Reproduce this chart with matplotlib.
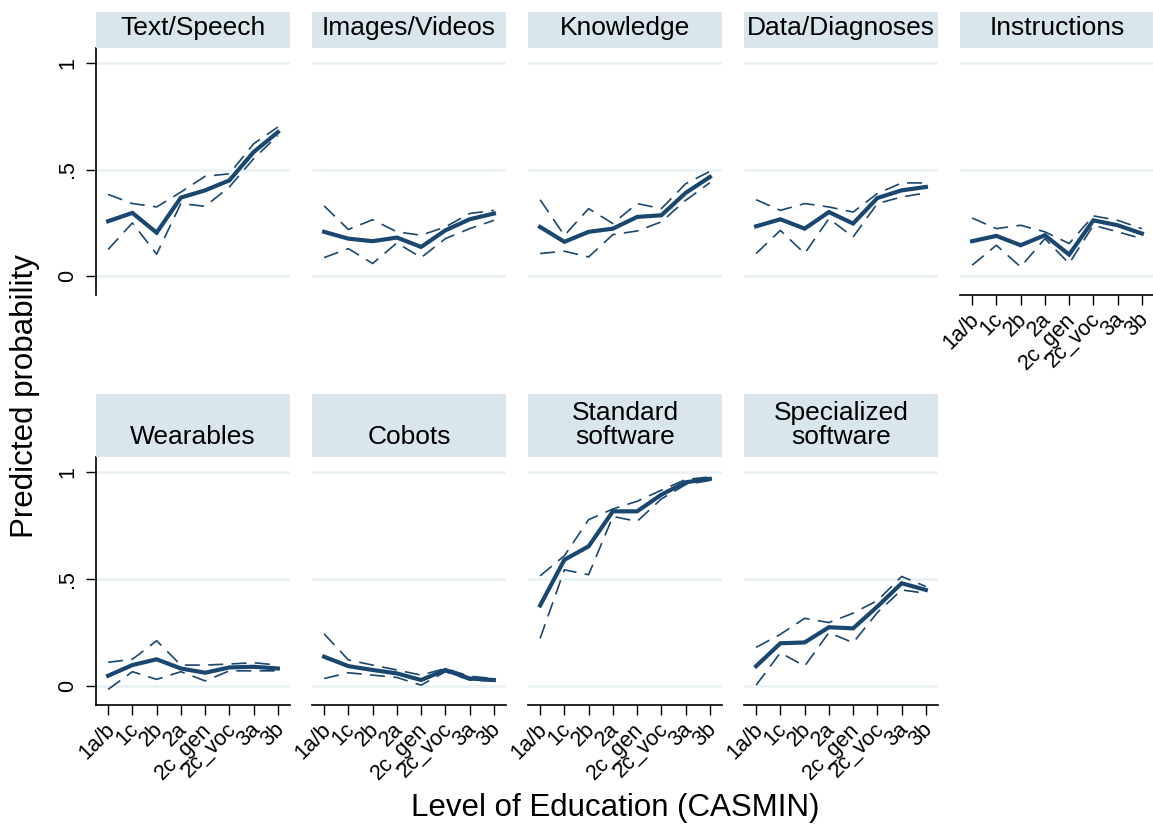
import numpy as np
import matplotlib
matplotlib.use("Agg")
import matplotlib.pyplot as plt
import matplotlib.transforms as mtransforms

plt.rcParams['font.family'] = ['Liberation Sans', 'DejaVu Sans']

# niveles de educacion (CASMIN)
niveles = ["1a/b", "1c", "2b", "2a", "2c_gen", "2c_voc", "3a", "3b"]

# valores: estimacion, limite superior, limite inferior
text_est = [0.257, 0.296, 0.203, 0.368, 0.402, 0.449, 0.582, 0.676]
text_hi = [0.383, 0.340, 0.324, 0.394, 0.468, 0.480, 0.621, 0.700]
text_lo = [0.124, 0.249, 0.102, 0.340, 0.327, 0.418, 0.551, 0.660]

img_est = [0.207, 0.175, 0.163, 0.180, 0.136, 0.214, 0.266, 0.293]
img_hi = [0.329, 0.218, 0.264, 0.207, 0.191, 0.230, 0.293, 0.308]
img_lo = [0.086, 0.128, 0.058, 0.155, 0.086, 0.175, 0.222, 0.261]

know_est = [0.230, 0.160, 0.207, 0.222, 0.277, 0.285, 0.390, 0.465]
know_hi = [0.358, 0.190, 0.316, 0.246, 0.340, 0.316, 0.433, 0.491]
know_lo = [0.105, 0.116, 0.089, 0.194, 0.211, 0.254, 0.355, 0.438]

data_est = [0.233, 0.266, 0.222, 0.300, 0.246, 0.366, 0.402, 0.418]
data_hi = [0.358, 0.308, 0.340, 0.324, 0.300, 0.387, 0.437, 0.437]
data_lo = [0.105, 0.214, 0.105, 0.269, 0.183, 0.340, 0.371, 0.390]

instr_est = [0.163, 0.188, 0.144, 0.191, 0.100, 0.261, 0.238, 0.199]
instr_hi = [0.272, 0.222, 0.238, 0.207, 0.152, 0.282, 0.261, 0.222]
instr_lo = [0.050, 0.144, 0.042, 0.175, 0.058, 0.238, 0.207, 0.175]

wear_est = [0.047, 0.097, 0.124, 0.081, 0.061, 0.086, 0.089, 0.081]
wear_hi = [0.110, 0.124, 0.211, 0.097, 0.097, 0.102, 0.108, 0.097]
wear_lo = [-0.017, 0.066, 0.030, 0.066, 0.023, 0.070, 0.070, 0.070]

cob_est = [0.136, 0.092, 0.074, 0.058, 0.027, 0.074, 0.034, 0.027]
cob_hi = [0.243, 0.121, 0.097, 0.074, 0.050, 0.081, 0.045, 0.034]
cob_lo = [0.034, 0.061, 0.050, 0.039, 0.003, 0.066, 0.027, 0.022]

std_est = [0.376, 0.590, 0.653, 0.817, 0.817, 0.895, 0.953, 0.969]
std_hi = [0.515, 0.609, 0.778, 0.828, 0.864, 0.916, 0.966, 0.978]
std_lo = [0.222, 0.543, 0.520, 0.793, 0.770, 0.875, 0.942, 0.962]

spec_est = [0.092, 0.199, 0.203, 0.274, 0.269, 0.371, 0.480, 0.449]
spec_hi = [0.180, 0.241, 0.316, 0.296, 0.340, 0.399, 0.512, 0.465]
spec_lo = [0.003, 0.155, 0.092, 0.249, 0.202, 0.343, 0.449, 0.433]

titulos = ["Text/Speech", "Images/Videos", "Knowledge", "Data/Diagnoses", "Instructions",
           "Wearables", "Cobots", "Standard\nsoftware", "Specialized\nsoftware"]

paneles = [(text_est, text_hi, text_lo), (img_est, img_hi, img_lo),
           (know_est, know_hi, know_lo), (data_est, data_hi, data_lo),
           (instr_est, instr_hi, instr_lo), (wear_est, wear_hi, wear_lo),
           (cob_est, cob_hi, cob_lo), (std_est, std_hi, std_lo),
           (spec_est, spec_hi, spec_lo)]

azul = "#1A476F"
gris_grid = "#EAF2F3"
caja = "#D9E6EB"

W, H = 1153, 825
fig = plt.figure(figsize=(W / 100, H / 100), dpi=100)

lefts = [96, 312, 528, 744, 960]
ancho = 194
filas = [(48.3, 295, 11.7), (457.3, 705, 394)]  # top, bottom, top de la caja

x = np.arange(1, len(niveles) + 1)
corrido = mtransforms.ScaledTranslation(-4 / 100, 0, fig.dpi_scale_trans)

for i, (titulo, (est, hi, lo)) in enumerate(zip(titulos, paneles)):
    fila, col = divmod(i, 5)
    top, bottom, caja_top = filas[fila]
    ax = fig.add_axes([lefts[col] / W, 1 - bottom / H, ancho / W, (bottom - top) / H])
    ax.set_xlim(0.5, 8.5)
    ax.set_ylim(-0.09, 1.07)
    for g in [0, 0.5, 1]:
        ax.axhline(g, color=gris_grid, lw=2, zorder=0)
    ax.plot(x, hi, color=azul, lw=1.2, dashes=(9, 5))
    ax.plot(x, lo, color=azul, lw=1.2, dashes=(9, 5))
    ax.plot(x, est, color=azul, lw=3.0, solid_joinstyle='miter')

    for s in ax.spines.values():
        s.set_visible(False)

    if col == 0:
        ax.spines['left'].set_visible(True)
        ax.spines['left'].set_linewidth(1.2)
        ax.set_yticks([0, 0.5, 1])
        ax.set_yticklabels(["0", ".5", "1"], rotation=90, va='center', fontsize=15.5)
        ax.tick_params(axis='y', length=7, width=1, pad=6)
    else:
        ax.set_yticks([])

    abajo = fila == 1 or col == 4
    if abajo:
        ax.spines['bottom'].set_visible(True)
        ax.spines['bottom'].set_linewidth(1.2)
        ax.set_xticks(x)
        ax.set_xticklabels(niveles, rotation=45, ha='right', rotation_mode='anchor',
                           fontsize=15.5)
        ax.tick_params(axis='x', length=7, width=1, pad=3)
        for lab in ax.get_xticklabels():
            lab.set_transform(lab.get_transform() + corrido)
    else:
        ax.set_xticks([])

    # caja del titulo
    bx = fig.add_axes([lefts[col] / W, 1 - top / H, ancho / W, (top - caja_top) / H])
    bx.set_facecolor(caja)
    bx.set_xticks([])
    bx.set_yticks([])
    for s in bx.spines.values():
        s.set_visible(False)
    bx.annotate(titulo, xy=(0.5, 0), xycoords='axes fraction', xytext=(0, 6),
                textcoords='offset points', ha='center', va='bottom', fontsize=19,
                linespacing=1.0)

fig.text(25 / W, 1 - 396 / H, "Predicted probability", rotation=90,
         ha='center', va='center', fontsize=22.5)
fig.text(615 / W, 1 - 808 / H, "Level of Education (CASMIN)",
         ha='center', va='center', fontsize=22.5)

fig.savefig("out.png", dpi=100, facecolor='white')
